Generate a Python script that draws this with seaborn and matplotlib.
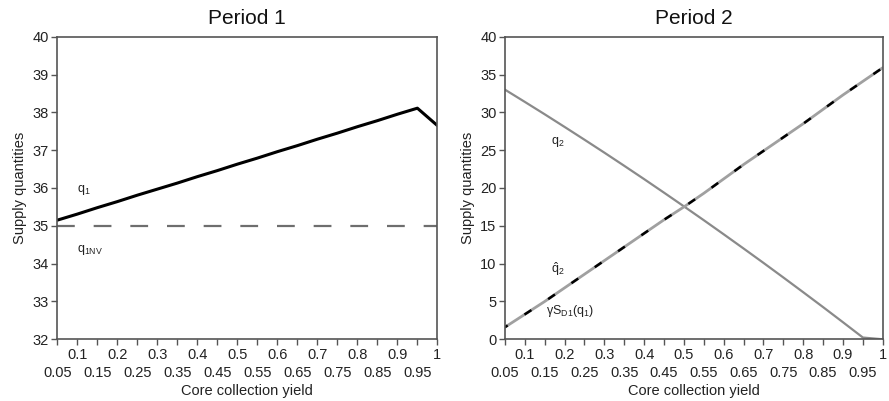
import numpy as np
import pandas as pd
import matplotlib
matplotlib.use("Agg")
import matplotlib.pyplot as plt
import seaborn as sns

# ---- data ----
yield_x = [0.05, 0.10, 0.15, 0.20, 0.25, 0.30, 0.35, 0.40, 0.45, 0.50,
           0.55, 0.60, 0.65, 0.70, 0.75, 0.80, 0.85, 0.90, 0.95, 1.00]

q1 = [35.15, 35.31, 35.48, 35.64, 35.81, 35.97, 36.13, 36.30, 36.46, 36.63,
      36.79, 36.96, 37.12, 37.29, 37.45, 37.62, 37.78, 37.95, 38.11, 37.65]
q1_nv = [35.0] * 20

q2 = [33.00, 31.38, 29.74, 28.07, 26.38, 24.67, 22.93, 21.17, 19.38, 17.57,
      15.74, 13.88, 12.00, 10.10, 8.17, 6.22, 4.25, 2.25, 0.23, 0.0]
q2_hat = [1.6, 3.3, 5.0, 6.8, 8.6, 10.4, 12.2, 14.0, 15.8, 17.5,
          19.3, 21.2, 23.1, 24.9, 26.7, 28.5, 30.4, 32.3, 34.1, 35.9]
gamma_sd1 = q2_hat  # overlaid black dashes follow the same curve

major_ticks = [0.1, 0.2, 0.3, 0.4, 0.5, 0.6, 0.7, 0.8, 0.9, 1.0]
major_labels = ["0.1", "0.2", "0.3", "0.4", "0.5", "0.6", "0.7", "0.8", "0.9", "1"]
minor_ticks = [0.05, 0.15, 0.25, 0.35, 0.45, 0.55, 0.65, 0.75, 0.85, 0.95]
minor_labels = ["0.05", "0.15", "0.25", "0.35", "0.45", "0.55", "0.65", "0.75", "0.85", "0.95"]

sns.set_style("ticks")
plt.rcParams["font.family"] = ["Liberation Sans", "DejaVu Sans"]
plt.rcParams["mathtext.fontset"] = "custom"
plt.rcParams["mathtext.rm"] = "Liberation Sans"
plt.rcParams["mathtext.it"] = "Liberation Sans"
plt.rcParams["mathtext.bf"] = "Liberation Sans:bold"

fig = plt.figure(figsize=(8.89, 4.01), dpi=100)
ax1 = fig.add_axes([0.0645, 0.1539, 0.4275, 0.7546])
ax2 = fig.add_axes([0.5680, 0.1539, 0.4250, 0.7546])

spine_col = "#555555"
tick_fs = 10.5

def style(ax, ylim, yticks, title):
    ax.set_xlim(0.05, 1.0)
    ax.set_ylim(*ylim)
    ax.set_yticks(yticks)
    ax.set_xticks(major_ticks, labels=major_labels)
    ax.set_xticks(minor_ticks, labels=minor_labels, minor=True)
    ax.tick_params(axis="x", which="major", direction="out", length=4, width=1,
                   pad=2, labelsize=tick_fs, color=spine_col, labelcolor="#222222")
    ax.tick_params(axis="x", which="minor", direction="out", length=4, width=1,
                   pad=15, labelsize=tick_fs, color=spine_col, labelcolor="#222222")
    ax.tick_params(axis="y", direction="out", length=4, width=1, pad=2,
                   labelsize=tick_fs, color=spine_col, labelcolor="#222222")
    for s in ax.spines.values():
        s.set_visible(True)
        s.set_color(spine_col)
        s.set_linewidth(1.2)
    ax.set_title(title, fontsize=15, pad=9, color="#111111")
    ax.set_xlabel("Core collection yield", fontsize=10.5, labelpad=3, color="#222222")
    ax.set_ylabel("Supply quantities", fontsize=10.5, labelpad=4, color="#222222")

# ---- Period 1 ----
sns.lineplot(x=yield_x, y=q1_nv, ax=ax1, color="#6e6e6e", linewidth=1.6,
             linestyle=(0, (8.0, 8.5)), clip_on=False)
sns.lineplot(x=yield_x, y=q1, ax=ax1, color="black", linewidth=2.2)
style(ax1, (32, 40), range(32, 41), "Period 1")
ax1.text(0.098, 35.95, r"$\mathregular{q_1}$", fontsize=9, color="#222222", va="center")
ax1.text(0.098, 34.35, r"$\mathregular{q_{1NV}}$", fontsize=9, color="#222222", va="center")

# ---- Period 2 ----
sns.lineplot(x=yield_x, y=q2, ax=ax2, color="#8a8a8a", linewidth=1.6)
sns.lineplot(x=yield_x, y=q2_hat, ax=ax2, color="#a0a0a0", linewidth=2.0)
sns.lineplot(x=yield_x, y=gamma_sd1, ax=ax2, color="black", linewidth=1.8,
             linestyle=(2, (3.3, 8.0)))
style(ax2, (0, 40), range(0, 41, 5), "Period 2")
ax2.text(0.165, 26.1, r"$\mathregular{q_2}$", fontsize=9, color="#222222", va="center")
ax2.text(0.165, 9.2, r"$\mathregular{\hat{q}_2}$", fontsize=9, color="#222222", va="center")
ax2.text(0.152, 3.7, r"$\mathregular{\gamma S_{D1}(q_1)}$", fontsize=9, color="#222222", va="center")

fig.savefig("out.png", dpi=100)
